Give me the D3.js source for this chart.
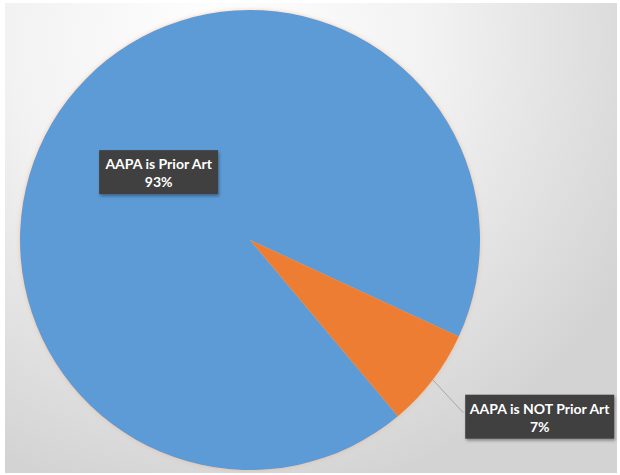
<!DOCTYPE html>
<html>
<head>
<meta charset="utf-8">
<script src="https://cdn.jsdelivr.net/npm/d3@7"></script>
<style>
  body { margin: 0; background: #fff; }
  svg { display: block; }
  .lbl { font-family: Lato, "Open Sans", sans-serif; font-weight: bold; font-size: 14px; fill: #fff; }
</style>
</head>
<body>
<svg id="pie" width="620" height="475"></svg>
<script>
const categories = ['AAPA is Prior Art', 'AAPA is NOT Prior Art'];
const shares = [93, 7];
const colors = ['#5b9bd5', '#ed7d31'];

const svg = d3.select('#pie');
const width = +svg.attr('width');
const height = +svg.attr('height');

const defs = svg.append('defs');
const bg = defs.append('radialGradient')
    .attr('id', 'bg')
    .attr('gradientUnits', 'userSpaceOnUse')
    .attr('cx', 220).attr('cy', 40).attr('r', 470);
bg.append('stop').attr('offset', '0%').attr('stop-color', '#ffffff');
bg.append('stop').attr('offset', '45%').attr('stop-color', '#f2f2f2');
bg.append('stop').attr('offset', '100%').attr('stop-color', '#d3d3d3');

const shadow = defs.append('filter').attr('id', 'shadow')
    .attr('x', '-10%').attr('y', '-10%').attr('width', '120%').attr('height', '130%');
shadow.append('feDropShadow')
    .attr('dx', 1).attr('dy', 2).attr('stdDeviation', 1.5)
    .attr('flood-color', '#000').attr('flood-opacity', 0.35);

const glow = defs.append('filter').attr('id', 'glow')
    .attr('x', '-10%').attr('y', '-10%').attr('width', '120%').attr('height', '120%');
glow.append('feDropShadow')
    .attr('dx', 0).attr('dy', 0).attr('stdDeviation', 2)
    .attr('flood-color', '#e8a060').attr('flood-opacity', 0.5);

// background with thin white frame
svg.append('rect')
    .attr('x', 5).attr('y', 3)
    .attr('width', width - 8).attr('height', height - 5)
    .attr('fill', 'url(#bg)');

const cx = 250, cy = 240, radius = 230;

const pie = d3.pie().sort(null)
    .startAngle(140 * Math.PI / 180)
    .endAngle(140 * Math.PI / 180 + 2 * Math.PI);

const arcs = pie(shares);

const arc = d3.arc().innerRadius(0).outerRadius(radius);
const rimArc = d3.arc().innerRadius(radius).outerRadius(radius);
const innerArc = d3.arc().innerRadius(radius * 0.5).outerRadius(radius * 0.5);

const g = svg.append('g')
    .attr('transform', `translate(${cx},${cy})`);

g.append('g').attr('filter', 'url(#glow)')
  .selectAll('path').data(arcs)
  .enter().append('path')
    .attr('d', arc)
    .attr('fill', (d, i) => colors[i]);

// label for the big slice sits inside, label for the small one sits outside with a leader
const labelPos = arcs.map((d, i) => {
    if (i === 0) {
        const c = innerArc.centroid(d);
        return [c[0], c[1] + 2];
    }
    const p = rimArc.centroid(d);
    return [p[0] + 107, p[1] + 37];
});
const boxW = [119, 149];
const boxH = 44;

const rim = rimArc.centroid(arcs[1]);
g.append('polyline')
    .attr('points', [rim, [labelPos[1][0] - boxW[1] / 2 - 2, labelPos[1][1] - 4]].map(p => p.join(',')).join(' '))
    .attr('fill', 'none')
    .attr('stroke', '#a6a6a6')
    .attr('stroke-width', 1);

const labels = g.selectAll('g.label').data(arcs)
  .enter().append('g')
    .attr('class', 'label')
    .attr('transform', (d, i) => `translate(${labelPos[i][0]},${labelPos[i][1]})`);

labels.append('rect')
    .attr('x', (d, i) => -boxW[i] / 2)
    .attr('y', -boxH / 2)
    .attr('width', (d, i) => boxW[i])
    .attr('height', boxH)
    .attr('fill', '#404040')
    .attr('filter', 'url(#shadow)');

labels.append('text')
    .attr('class', 'lbl')
    .attr('text-anchor', 'middle')
    .attr('y', -3)
    .text((d, i) => categories[i]);

labels.append('text')
    .attr('class', 'lbl')
    .attr('text-anchor', 'middle')
    .attr('y', 15)
    .text(d => d.data + '%');
</script>
</body>
</html>
